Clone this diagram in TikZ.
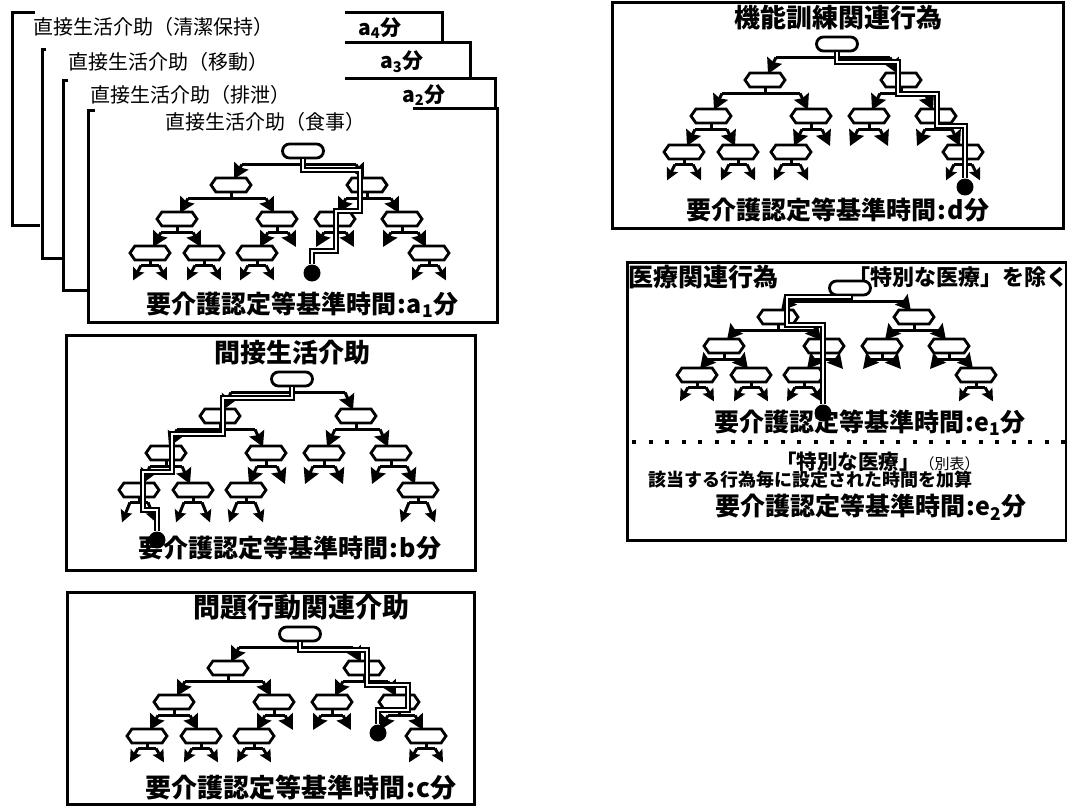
\documentclass[tikz,border=0pt]{standalone}
\usepackage{fontspec}
\setmainfont{Noto Sans CJK JP}
\usetikzlibrary{shapes.misc,shapes.symbols,arrows.meta,calc}
\tikzset{
 conn/.style={line width=3pt},
 arr/.style={conn,-{Stealth[length=15pt 0 0,width=16pt 0 0,inset=2pt 0]}},
 leafarr/.style={conn,-{Stealth[length=12pt 0 0,width=12pt 0 0,inset=2pt 0]}},
 rootnd/.style={rounded rectangle,draw,line width=2.8pt,fill=white,minimum width=41pt,minimum height=14pt,inner sep=0pt},
 hexnd/.style={signal,signal to=east and west,signal pointer angle=110,draw,line width=2.8pt,fill=white,minimum width=40pt,minimum height=14pt,inner sep=0pt},
 hl/.style={line width=2.4pt,double=white,double distance=1.4pt},
 dotnd/.style={circle,fill=black,minimum size=17pt,inner sep=0pt},
 frame/.style={line width=3pt},
 bt/.style={inner sep=0pt,font=\bfseries\fontsize{#1}{#1}\selectfont},
 rt/.style={inner sep=0pt,font=\fontsize{#1}{#1}\selectfont},
}
\newcommand\fork[3]{%
  \draw[conn] (#1.south) -- ++(0,5) coordinate (#1-m);
  \draw[conn] ($(#1-m -| #2)+(11,0)$) -- ($(#1-m -| #3)+(-11,0)$);
  \draw[arr] ($(#1-m -| #2)+(11,0)$) -- ($(#2)+(3,-6)$);
  \draw[arr] ($(#1-m -| #3)+(-11,0)$) -- ($(#3)+(-3,-6)$);}
\newcommand\leaf[2]{%
  \draw[conn] (#1.south) -- ++(0,4) coordinate (#1-m);
  \draw[conn] ($(#1-m)+(-9,0)$) -- ($(#1-m)+(9,0)$);
  \draw[leafarr] ($(#1-m)+(-9,0)$) -- ++(-8,#2);
  \draw[leafarr] ($(#1-m)+(9,0)$) -- ++(8,#2);}
\newcommand\mytree[5]{%
 \begin{scope}[shift={(#2,#3)}]
  \node[rootnd] (#1r) at (0,0) {};
  \node[hexnd] (#1a) at (-72,#4) {};
  \node[hexnd] (#1b) at (64,#4) {};
  \node[hexnd] (#1aa) at (-126,2*#4) {};
  \node[hexnd] (#1ab) at (-26,2*#4) {};
  \node[hexnd] (#1ba) at (32,2*#4) {};
  \node[hexnd] (#1bb) at (99,2*#4) {};
  \node[hexnd] (#1aaa) at (-153,3*#4) {};
  \node[hexnd] (#1aab) at (-99,3*#4) {};
  \node[hexnd] (#1aba) at (-46,3*#4) {};
  \node[hexnd] (#1bbb) at (126,3*#4) {};
  \coordinate (#1abb) at (-4,3*#4);
  \coordinate (#1baa) at (10,3*#4);
  \coordinate (#1bab) at (54,3*#4);
  \coordinate (#1bba) at (77,3*#4);
  \fork{#1r}{#1a}{#1b}
  \fork{#1a}{#1aa}{#1ab}
  \fork{#1b}{#1ba}{#1bb}
  \fork{#1aa}{#1aaa}{#1aab}
  \fork{#1ab}{#1aba}{#1abb}
  \fork{#1ba}{#1baa}{#1bab}
  \fork{#1bb}{#1bba}{#1bbb}
  \leaf{#1aaa}{#5}
  \leaf{#1aab}{#5}
  \leaf{#1aba}{#5}
  \leaf{#1bbb}{#5}
 \end{scope}}
\newcommand\kijun[1]{要介護認定等基準時間\kern1pt:\kern1pt#1分}
\begin{document}
\begin{tikzpicture}[x=1pt,y=-1pt]
\useasboundingbox (0,0) rectangle (1067,808);
% stacked frames
\draw[frame] (35,13) -- (12,13) -- (12,225) -- (40,225);
\draw[frame] (345,13) -- (442,13) -- (442,43);
\draw[frame] (46,50) -- (42,50) -- (42,258) -- (63,258);
\draw[frame] (345,43) -- (470,43) -- (470,78);
\draw[frame] (68,80) -- (63,80) -- (63,290) -- (88,290);
\draw[frame] (345,78) -- (495,78) -- (495,108);
\draw[frame] (95,110) -- (88,110) -- (88,322) -- (497,322) -- (497,108) -- (413,108);
\node[rt=20,anchor=west] (t4) at (33,27) {直接生活介助（清潔保持）};
\node[rt=20,anchor=west] (t3) at (68,62) {直接生活介助（移動）};
\node[rt=20,anchor=west] (t2) at (90,95) {直接生活介助（排泄）};
\node[rt=20,anchor=west] (t1) at (165,122) {直接生活介助（食事）};
\node[bt=21,anchor=west] (l4) at (358,28) {a\textsubscript{4}分};
\node[bt=21,anchor=west] (l3) at (380,62) {a\textsubscript{3}分};
\node[bt=21,anchor=west] (l2) at (402,95) {a\textsubscript{2}分};
\node[bt=25,anchor=west] (ka) at (146,305) {\kijun{a\textsubscript{1}}};
% other boxes
\draw[frame] (66,335) rectangle (475,570);
\draw[frame] (67,592) rectangle (474,804);
\draw[frame] (612,3) rectangle (1063,228);
\draw[frame] (627,262) rectangle (1066,540);
\draw[line width=4pt,dash pattern=on 4pt off 12.5pt] (632,442) -- (1066,442);
\node[bt=26] (tb) at (292,353) {間接生活介助};
\node[bt=25] (kb) at (290,548) {\kijun{b}};
\node[bt=27] (tc) at (301,607) {問題行動関連介助};
\node[bt=26] (kc) at (301,788) {\kijun{c}};
\node[bt=26] (td) at (838,18) {機能訓練関連行為};
\node[bt=25] (kd) at (838,210) {\kijun{d}};
% trees
\mytree{a}{303}{151}{34}{15}
\mytree{b}{292}{379}{37}{20}
\mytree{c}{300}{634}{34}{14}
\mytree{d}{837}{44}{36}{16}
\mytree{e}{850}{288}{29}{14}
\node[bt=25,anchor=west] (te) at (628,277) {医療関連行為};
\node[bt=22,anchor=east] (tex) at (1069,277) {「特別な医療」を除く};
\node[bt=25] (ke1) at (870,423) {\kijun{e\textsubscript{1}}};
\node[anchor=west,inner sep=0pt] (tsp) at (776,462) {\bfseries\fontsize{20.5}{20}\selectfont 「特別な医療」\mdseries\fontsize{15}{15}\selectfont （別表）};
\node[bt=18,anchor=west] (tadd) at (648,480) {該当する行為毎に設定された時間を加算};
\node[bt=25] (ke2) at (871,507) {\kijun{e\textsubscript{2}}};
% highlighted paths
\begin{scope}[shift={(303,151)}]
 \node[dotnd] (adot) at (9,122) {};
 \draw[hl] (ar.south) -- (0,19) -- (57,19) -- (57,60) -- (33,60) -- (33,100) -- (9,100) -- (adot.north);
\end{scope}
\begin{scope}[shift={(292,379)}]
 \node[dotnd] (bdot) at (-135,161) {};
 \draw[hl] (br.south) -- (0,19) -- (-69,19) -- (-69,55) -- (-120,55) -- (-120,93) -- (-149,93) -- (-149,131) -- (-135,131) -- (bdot.north);
\end{scope}
\begin{scope}[shift={(300,634)}]
 \node[dotnd] (cdot) at (78,99) {};
 \draw[hl] (cr.south) -- (0,16) -- (67,16) -- (67,51) -- (108,51) -- (108,76) -- (78,76) -- (cdot.north);
\end{scope}
\begin{scope}[shift={(837,44)}]
 \node[dotnd] (ddot) at (128,143) {};
 \draw[hl] (dr.south) -- (0,18) -- (61,18) -- (61,50) -- (100,50) -- (100,82) -- (128,82) -- (ddot.north);
\end{scope}
\begin{scope}[shift={(850,288)}]
 \node[dotnd] (edot) at (-27,125) {};
 \draw[hl] (er.south) -- (0,9) -- (-63,9) -- (-63,37) -- (-27,37) -- (edot.north);
\end{scope}
\end{tikzpicture}
\end{document}
